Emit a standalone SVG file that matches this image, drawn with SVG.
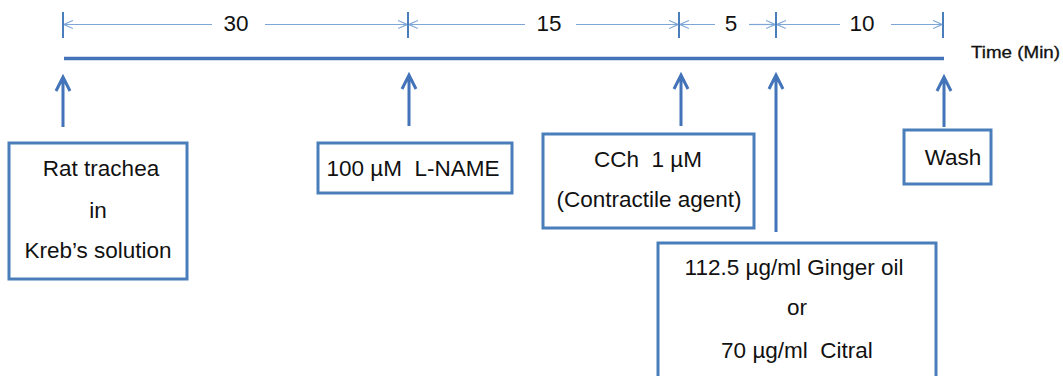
<svg xmlns="http://www.w3.org/2000/svg" width="1063" height="376" viewBox="0 0 1063 376">
  <style>
    .lbl { font-family: "Liberation Sans", Arial, sans-serif; font-size: 22.5px; fill: #111; text-anchor: middle; white-space: pre; }
    .box { fill: #fff; stroke: #4a7ebb; stroke-width: 3; }
    .tick { stroke: #4a7ebb; stroke-width: 2; }
    .dimhalf { stroke: #7ea6d8; stroke-width: 1.2; fill: none; marker-end: url(#chev); }
    .axis { stroke: #4373b8; stroke-width: 3.5; }
    .add { stroke: #4373b8; stroke-width: 3; fill: none; }
  </style>
  <defs>
    <!-- open chevron used at both ends of each duration line -->
    <marker id="chev" viewBox="0 0 10 10" refX="10" refY="5" markerUnits="userSpaceOnUse" markerWidth="9" markerHeight="10" orient="auto">
      <path d="M0,0.5 L10,5 L0,9.5" fill="none" stroke="#7ea6d8" stroke-width="1.3"/>
    </marker>
  </defs>

  <!-- duration dimensions above the time axis -->
  <g id="dimensions">
    <line class="tick" x1="63" y1="12" x2="63" y2="38"/>
    <line class="tick" x1="408" y1="12" x2="408" y2="38"/>
    <line class="tick" x1="679" y1="12" x2="679" y2="38"/>
    <line class="tick" x1="776" y1="12" x2="776" y2="38"/>
    <line class="tick" x1="943" y1="12" x2="943" y2="38"/>

    <line class="dimhalf" x1="212" y1="24.5" x2="64" y2="24.5"/>
    <line class="dimhalf" x1="265" y1="24.5" x2="407" y2="24.5"/>
    <text class="lbl" x="236" y="31">30</text>

    <line class="dimhalf" x1="525" y1="24.5" x2="409" y2="24.5"/>
    <line class="dimhalf" x1="576" y1="24.5" x2="678" y2="24.5"/>
    <text class="lbl" x="549" y="31">15</text>

    <line class="dimhalf" x1="715" y1="24.5" x2="680" y2="24.5"/>
    <line class="dimhalf" x1="749" y1="24.5" x2="775" y2="24.5"/>
    <text class="lbl" x="731" y="31">5</text>

    <line class="dimhalf" x1="840" y1="24.5" x2="777" y2="24.5"/>
    <line class="dimhalf" x1="891" y1="24.5" x2="942" y2="24.5"/>
    <text class="lbl" x="862" y="31">10</text>
  </g>

  <!-- time axis -->
  <g id="axis">
    <line class="axis" x1="64" y1="58.5" x2="944" y2="58.5"/>
    <text x="971" y="57.5" font-family="'Liberation Sans', Arial, sans-serif" font-size="16.5" fill="#111" stroke="#111" stroke-width="0.3" textLength="89" lengthAdjust="spacingAndGlyphs">Time (Min)</text>
  </g>

  <!-- addition arrows -->
  <g id="connectors">
    <path class="add" d="M63,127 V77 M56,91 L63,77 L70,91"/>
    <path class="add" d="M409,126 V75 M402,89 L409,75 L416,89"/>
    <path class="add" d="M681,126 V75 M674,89 L681,75 L688,89"/>
    <path class="add" d="M776,232 V75 M769,89 L776,75 L783,89"/>
    <path class="add" d="M944,127 V77 M937,91 L944,77 L951,91"/>
  </g>

  <g id="node-trachea">
    <rect class="box" x="9" y="143" width="178" height="136"/>
    <text class="lbl" x="101" y="176">Rat trachea</text>
    <text class="lbl" x="98" y="218">in</text>
    <text class="lbl" x="98" y="258">Kreb’s solution</text>
  </g>

  <g id="node-lname">
    <rect class="box" x="318" y="143" width="194" height="50"/>
    <text class="lbl" x="413" y="176">100 µM  L-NAME</text>
  </g>

  <g id="node-cch">
    <rect class="box" x="543" y="134" width="211" height="94"/>
    <text class="lbl" x="648" y="167">CCh  1 µM</text>
    <text class="lbl" x="649" y="207">(Contractile agent)</text>
  </g>

  <g id="node-test">
    <rect class="box" x="658" y="243" width="278" height="150"/>
    <text class="lbl" x="794" y="275">112.5 µg/ml Ginger oil</text>
    <text class="lbl" x="797" y="315">or</text>
    <text class="lbl" x="797" y="358">70 µg/ml  Citral</text>
  </g>

  <g id="node-wash">
    <rect class="box" x="904" y="130" width="87" height="54"/>
    <text class="lbl" x="953" y="165">Wash</text>
  </g>
</svg>
